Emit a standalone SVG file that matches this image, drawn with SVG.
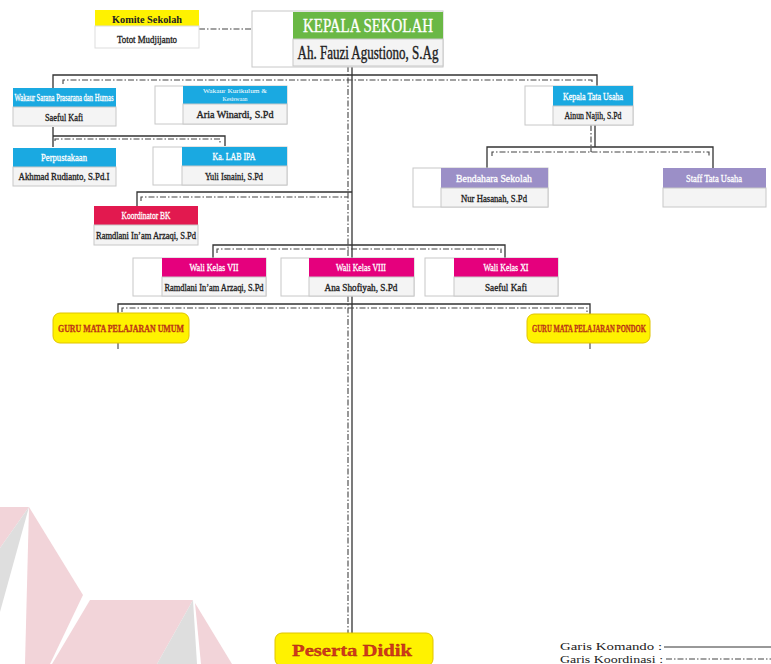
<svg xmlns="http://www.w3.org/2000/svg" width="771" height="664" viewBox="0 0 771 664">
<defs>
<style>
.sq{fill:#fff;stroke:#c8c8c8;stroke-width:1}
.row{fill:#f4f4f4;stroke:#c8c8c8;stroke-width:1}
.blue{fill:#1aa9e1}
.green{fill:#6ab845}
.yel{fill:#fff200}
.purple{fill:#9b8fc7}
.crim{fill:#e2194f}
.mag{fill:#e5007d}
.t{font-family:"Liberation Serif","DejaVu Serif",serif;text-anchor:middle}
.hw{fill:#fff;font-size:11px;stroke:#fff;stroke-width:0.3}
.nb{fill:#222;font-size:11px;stroke:#222;stroke-width:0.35}
.solid{fill:none;stroke:#333;stroke-width:1.3}
.dash{fill:none;stroke:#444;stroke-width:1.1;stroke-dasharray:6 2 1.5 2}
.guru{fill:#fff200;stroke:#e0c400;stroke-width:1}
.gt{font-family:"Liberation Serif","DejaVu Serif",serif;font-weight:bold;fill:#d2381b;text-anchor:middle;stroke:#a02810;stroke-width:0.3}
.leg{font-family:"Liberation Serif","DejaVu Serif",serif;fill:#222;font-size:11px}
</style>
</defs>
<rect width="771" height="664" fill="#fff"/>
<g id="watermark">
<polygon points="0,507 29,507 0,548" fill="#f2d4d9"/>
<polygon points="29,507 0,548 0,612" fill="#dedede"/>
<polygon points="29,507 25,664 50,664 83,595" fill="#f2d4d9"/>
<polygon points="90,600 193,600 157,664 52,664" fill="#f2d4d9"/>
<polygon points="193,600 157,664 197,664" fill="#dedede"/>
<polygon points="195,603 232,664 201,664" fill="#f2d4d9"/>
</g>
<g id="connectors">
<path class="dash" d="M199,29 H252"/>
<path class="solid" d="M352,66 V633"/>
<path class="dash" d="M348,66 V633"/>
<path class="solid" d="M53,88 V75 H597 V86"/>
<path class="dash" d="M63,84 V80 H592 V84"/>
<path class="solid" d="M53,127 V147 M53,136 H225 V146"/>
<path class="dash" d="M55,141 V139 H220 V143"/>
<path class="solid" d="M595,125 V147 M487,168 V147 H713 V168"/>
<path class="dash" d="M591,125 V152 M492,156 V152 H709 V156"/>
<path class="solid" d="M137,206 V192 H352"/>
<path class="dash" d="M141,201 V197 H348"/>
<path class="solid" d="M213,258 V245 H505 V258"/>
<path class="dash" d="M217,253 V249 H501 V253"/>
<path class="solid" d="M118,313 V304 H590 V314"/>
<path class="dash" d="M122,312 V308 H587 V312"/>
<path class="dash" d="M118,343 V351 M590,343 V351"/>
</g>
<g id="komite">
<rect x="95" y="10" width="104" height="16" class="yel"/>
<rect x="95" y="26" width="104" height="22" fill="#fff" stroke="#ddd"/>
<text x="147" y="22.5" class="t" font-size="11" font-weight="bold" fill="#222" textLength="70" lengthAdjust="spacingAndGlyphs">Komite Sekolah</text>
<text x="147" y="43" class="t nb" textLength="60" lengthAdjust="spacingAndGlyphs">Totot Mudjijanto</text>
</g>
<g id="kepala-sekolah">
<rect x="252" y="11" width="191" height="56" class="sq"/>
<rect x="293" y="12" width="150" height="27" class="green"/>
<rect x="293" y="39" width="150" height="27" class="row"/>
<text x="368" y="32" class="t" font-size="18" fill="#fff" stroke="#fff" stroke-width="0.3" textLength="130" lengthAdjust="spacingAndGlyphs">KEPALA SEKOLAH</text>
<text x="368" y="59" class="t" font-size="18" fill="#222" stroke="#222" stroke-width="0.4" textLength="141" lengthAdjust="spacingAndGlyphs">Ah. Fauzi Agustiono, S.Ag</text>
</g>
<g id="wakaur-sarana">
<rect x="13" y="88" width="103" height="19" class="blue"/>
<rect x="13" y="107" width="103" height="19" class="row"/>
<text x="64" y="101" class="t hw" font-size="9" textLength="99" lengthAdjust="spacingAndGlyphs">Wakaur Sarana Prasarana dan Humas</text>
<text x="64" y="121" class="t nb" textLength="38" lengthAdjust="spacingAndGlyphs">Saeful Kafi</text>
</g>
<g id="wakaur-kurikulum">
<rect x="155" y="86" width="132" height="38" class="sq"/>
<rect x="183" y="86" width="104" height="18" class="blue"/>
<rect x="183" y="104" width="104" height="20" class="row"/>
<text x="235" y="93" class="t" font-size="6" fill="#fff" textLength="64" lengthAdjust="spacingAndGlyphs">Wakaur  Kurikulum &amp;</text>
<text x="235" y="100.5" class="t" font-size="6" fill="#fff" textLength="25" lengthAdjust="spacingAndGlyphs">Kesiswaan</text>
<text x="235" y="118" class="t nb" textLength="77" lengthAdjust="spacingAndGlyphs">Aria Winardi, S.Pd</text>
</g>
<g id="kepala-tata-usaha">
<rect x="525" y="86" width="108" height="39" class="sq"/>
<rect x="553" y="86" width="80" height="20" class="blue"/>
<rect x="553" y="106" width="80" height="19" class="row"/>
<text x="593" y="100" class="t hw" textLength="60" lengthAdjust="spacingAndGlyphs">Kepala Tata Usaha</text>
<text x="593" y="119" class="t nb" textLength="57" lengthAdjust="spacingAndGlyphs">Ainun Najih, S.Pd</text>
</g>
<g id="perpustakaan">
<rect x="13" y="148" width="103" height="19" class="blue"/>
<rect x="13" y="167" width="103" height="19" class="row"/>
<text x="64" y="161" class="t hw" textLength="46" lengthAdjust="spacingAndGlyphs">Perpustakaan</text>
<text x="64" y="180" class="t nb" textLength="91" lengthAdjust="spacingAndGlyphs">Akhmad Rudianto, S.Pd.I</text>
</g>
<g id="lab-ipa">
<rect x="153" y="147" width="134" height="38" class="sq"/>
<rect x="182" y="147" width="105" height="19" class="blue"/>
<rect x="182" y="166" width="105" height="19" class="row"/>
<text x="234" y="160" class="t hw" textLength="43" lengthAdjust="spacingAndGlyphs">Ka. LAB IPA</text>
<text x="234" y="180" class="t nb" textLength="58" lengthAdjust="spacingAndGlyphs">Yuli Isnaini, S.Pd</text>
</g>
<g id="bendahara">
<rect x="413" y="168" width="135" height="39" class="sq"/>
<rect x="441" y="168" width="107" height="20" class="purple"/>
<rect x="441" y="188" width="107" height="19" class="row"/>
<text x="494" y="182" class="t hw" textLength="76" lengthAdjust="spacingAndGlyphs">Bendahara Sekolah</text>
<text x="494" y="202" class="t nb" textLength="66" lengthAdjust="spacingAndGlyphs">Nur Hasanah, S.Pd</text>
</g>
<g id="staff-tata-usaha">
<rect x="663" y="168" width="103" height="20" class="purple"/>
<rect x="663" y="188" width="103" height="19" class="row"/>
<text x="714" y="182" class="t hw" textLength="56" lengthAdjust="spacingAndGlyphs">Staff Tata Usaha</text>
</g>
<g id="koordinator-bk">
<rect x="94" y="206" width="104" height="19" class="crim"/>
<rect x="94" y="225" width="104" height="20" class="row"/>
<text x="146" y="219" class="t hw" textLength="49" lengthAdjust="spacingAndGlyphs">Koordinator BK</text>
<text x="146" y="239" class="t nb" textLength="100" lengthAdjust="spacingAndGlyphs">Ramdlani In’am Arzaqi, S.Pd</text>
</g>
<g id="wali-vii">
<rect x="133" y="258" width="133" height="38" class="sq"/>
<rect x="162" y="258" width="104" height="19" class="mag"/>
<rect x="162" y="277" width="104" height="19" class="row"/>
<text x="214" y="271" class="t hw" textLength="49" lengthAdjust="spacingAndGlyphs">Wali Kelas VII</text>
<text x="214" y="291" class="t nb" textLength="99" lengthAdjust="spacingAndGlyphs">Ramdlani In’am Arzaqi, S.Pd</text>
</g>
<g id="wali-viii">
<rect x="281" y="258" width="133" height="38" class="sq"/>
<rect x="309" y="258" width="105" height="19" class="mag"/>
<rect x="309" y="277" width="105" height="19" class="row"/>
<text x="361" y="271" class="t hw" textLength="50" lengthAdjust="spacingAndGlyphs">Wali Kelas VIII</text>
<text x="361" y="291" class="t nb" textLength="73" lengthAdjust="spacingAndGlyphs">Ana Shofiyah, S.Pd</text>
</g>
<g id="wali-xi">
<rect x="425" y="258" width="133" height="38" class="sq"/>
<rect x="454" y="258" width="104" height="19" class="mag"/>
<rect x="454" y="277" width="104" height="19" class="row"/>
<text x="506" y="271" class="t hw" textLength="45" lengthAdjust="spacingAndGlyphs">Wali Kelas XI</text>
<text x="506" y="291" class="t nb" textLength="42" lengthAdjust="spacingAndGlyphs">Saeful Kafi</text>
</g>
<g id="guru-umum">
<rect x="53" y="313" width="136" height="30" rx="7" class="guru"/>
<text x="121" y="332" class="gt" font-size="11" textLength="126" lengthAdjust="spacingAndGlyphs">GURU MATA PELAJARAN UMUM</text>
</g>
<g id="guru-pondok">
<rect x="527" y="314" width="123" height="29" rx="7" class="guru"/>
<text x="589" y="332" class="gt" font-size="10" textLength="114" lengthAdjust="spacingAndGlyphs">GURU MATA PELAJARAN PONDOK</text>
</g>
<g id="peserta-didik">
<rect x="275" y="633" width="158" height="33" rx="7" class="guru"/>
<text x="352" y="656" class="gt" font-size="17" fill="#d84a20" textLength="120" lengthAdjust="spacingAndGlyphs">Peserta Didik</text>
</g>
<g id="legend">
<text x="560" y="650" class="leg" text-anchor="start" textLength="102" lengthAdjust="spacingAndGlyphs">Garis Komando  :</text>
<text x="560" y="662.5" class="leg" text-anchor="start" textLength="103" lengthAdjust="spacingAndGlyphs">Garis Koordinasi :</text>
<path d="M664,647 H771" stroke="#333" stroke-width="1"/>
<path d="M666,659 H771" class="dash"/>
</g>
</svg>
